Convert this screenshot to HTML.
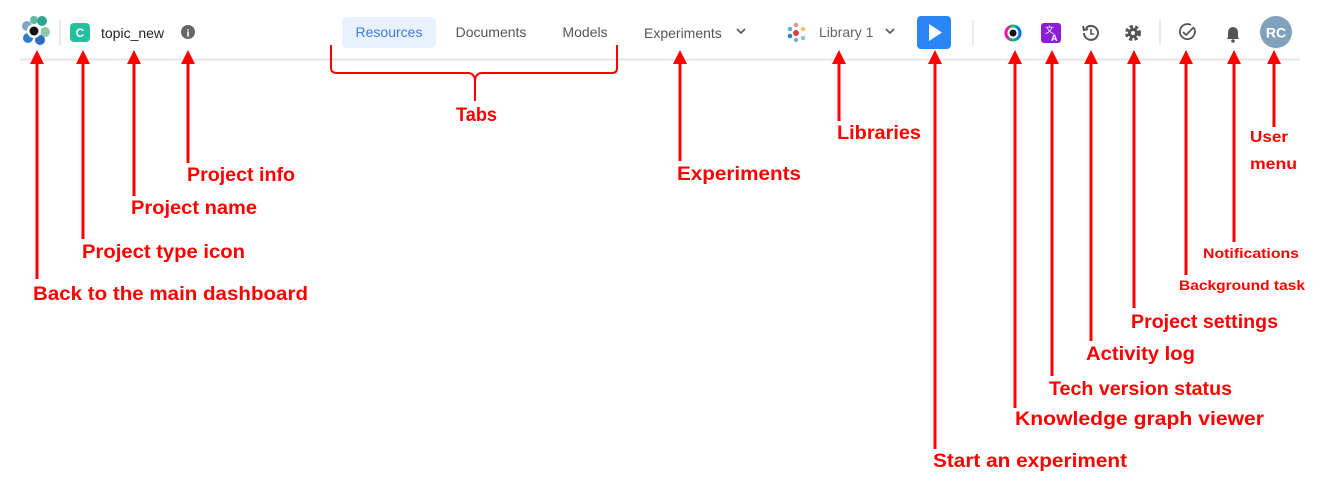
<!DOCTYPE html>
<html><head><meta charset="utf-8"><style>
body{margin:0;width:1339px;height:488px;background:#fff;overflow:hidden}
svg{display:block}
.l{font-family:"Liberation Sans",sans-serif;font-weight:bold;fill:#f00;font-size:19px}
.s{font-size:14px}
.u{font-family:"Liberation Sans",sans-serif;font-size:14px}
</style></head><body>
<svg width="1339" height="488" viewBox="0 0 1339 488" xmlns="http://www.w3.org/2000/svg">
<defs><linearGradient id="g"><stop offset="0" stop-color="#f0a"/><stop offset="0.5" stop-color="#0c6"/><stop offset="1" stop-color="#06f"/></linearGradient>
<path id="h" d="M0,0 L7,14 L-7,14 Z" fill="#f00"/></defs>
<line x1="20" y1="59.5" x2="1300" y2="59.5" stroke="#e6e6e6" stroke-width="2"/>
<g>
<circle cx="27" cy="26" r="5" fill="#7fa6c9"/><circle cx="42" cy="21" r="5" fill="#2aa58f"/><circle cx="45" cy="32" r="5" fill="#8cc7a8"/>
<circle cx="28" cy="38" r="5" fill="#2a7fc9"/><circle cx="40" cy="40" r="5" fill="#2b6cc0"/><circle cx="34" cy="20" r="4" fill="#5fb7a0"/>
<circle cx="34" cy="31" r="7" fill="#fff"/><circle cx="34" cy="31" r="4.5" fill="#111"/>
</g>
<line x1="60" y1="20" x2="60" y2="45" stroke="#e2e2e2" stroke-width="1.5"/>
<rect x="70" y="23" width="20" height="19" rx="4" fill="#22bfa0"/>
<text x="80" y="37" text-anchor="middle" font-family="Liberation Sans" font-weight="bold" font-size="12" fill="#fff">C</text>
<text x="101" y="38" class="u" fill="#222" font-size="14.5">topic_new</text>
<circle cx="188" cy="32" r="7" fill="#666"/><text x="188" y="36.5" text-anchor="middle" font-family="Liberation Serif" font-weight="bold" font-size="11" fill="#fff">i</text>
<rect x="342" y="17" width="94" height="31" rx="5" fill="#e8f1fd"/>
<text x="389" y="37" text-anchor="middle" class="u" fill="#3c7ee0">Resources</text>
<text x="491" y="37" text-anchor="middle" class="u" fill="#555">Documents</text>
<text x="585" y="37" text-anchor="middle" class="u" fill="#555">Models</text>
<text x="644" y="38" class="u" fill="#555">Experiments</text>
<path d="M737,29 l4,4 l4,-4" fill="none" stroke="#555" stroke-width="1.6"/>
<g><circle cx="796" cy="25" r="2.3" fill="#e48f8f"/><circle cx="803" cy="29" r="2.3" fill="#f0c070"/><circle cx="796" cy="33" r="3" fill="#e04040"/><circle cx="790" cy="29" r="2.3" fill="#5fb7d0"/><circle cx="790" cy="36" r="2.3" fill="#2a7fc9"/><circle cx="803" cy="38" r="2.3" fill="#8cc7d8"/><circle cx="796" cy="40" r="2" fill="#7ab"/></g>
<text x="819" y="37" class="u" fill="#666">Library 1</text>
<path d="M886,29 l4,4 l4,-4" fill="none" stroke="#555" stroke-width="1.6"/>
<rect x="917" y="16" width="34" height="33" rx="4" fill="#2b86f5"/>
<path d="M929,24 L942,32.5 L929,41 Z" fill="#fff"/>
<line x1="973" y1="20" x2="973" y2="45" stroke="#e2e2e2" stroke-width="1.5"/>
<circle cx="1013" cy="33" r="7" fill="none" stroke="url(#g)" stroke-width="3"/>
<circle cx="1013" cy="33" r="3.5" fill="#111"/>
<rect x="1041" y="23" width="20" height="20" rx="3" fill="#8b1fd6"/>
<text x="1045" y="33" font-family="Liberation Sans" font-size="9" fill="#fff">文</text><text x="1051" y="41" font-family="Liberation Sans" font-weight="bold" font-size="9" fill="#fff">A</text>
<path d="M1084,33 a7,7 0 1 0 2,-5" fill="none" stroke="#555" stroke-width="2"/><path d="M1083,26 l1,4 l4,-1" fill="none" stroke="#555" stroke-width="2"/><path d="M1091,29 v5 h3" fill="none" stroke="#555" stroke-width="1.6"/>
<circle cx="1133" cy="33" r="6" fill="none" stroke="#555" stroke-width="4" stroke-dasharray="3 2"/><circle cx="1133" cy="33" r="5" fill="#555"/><circle cx="1133" cy="33" r="2" fill="#fff"/>
<line x1="1160" y1="20" x2="1160" y2="45" stroke="#e2e2e2" stroke-width="1.5"/>
<path d="M1194,28 a7.5,7.5 0 1 1 -3,-3" fill="none" stroke="#555" stroke-width="1.8"/><path d="M1183,32 l3,3 l8,-8" fill="none" stroke="#555" stroke-width="1.8"/>
<path d="M1227,39 l1,-2 v-5 a5,5 0 0 1 10,0 v5 l1,2 z" fill="#555"/><circle cx="1233" cy="41" r="1.8" fill="#555"/>
<circle cx="1276" cy="32" r="16" fill="#7fa3be"/>
<text x="1276" y="37.5" text-anchor="middle" font-family="Liberation Sans" font-weight="bold" font-size="14" fill="#fff">RC</text>
<g stroke="#f00" stroke-width="3" fill="none">
<line x1="37" y1="62" x2="37" y2="279"/>
<line x1="83" y1="62" x2="83" y2="239"/>
<line x1="134" y1="62" x2="134" y2="196"/>
<line x1="188" y1="62" x2="188" y2="163"/>
<line x1="680" y1="62" x2="680" y2="161"/>
<line x1="839" y1="62" x2="839" y2="121"/>
<line x1="935" y1="62" x2="935" y2="449"/>
<line x1="1015" y1="62" x2="1015" y2="408"/>
<line x1="1052" y1="62" x2="1052" y2="376"/>
<line x1="1091" y1="62" x2="1091" y2="341"/>
<line x1="1134" y1="62" x2="1134" y2="308"/>
<line x1="1186" y1="62" x2="1186" y2="275"/>
<line x1="1234" y1="62" x2="1234" y2="242"/>
<line x1="1274" y1="62" x2="1274" y2="127"/>
</g>
<use href="#h" x="37" y="50"/><use href="#h" x="83" y="50"/><use href="#h" x="134" y="50"/><use href="#h" x="188" y="50"/>
<use href="#h" x="680" y="50"/><use href="#h" x="839" y="50"/><use href="#h" x="935" y="50"/><use href="#h" x="1015" y="50"/>
<use href="#h" x="1052" y="50"/><use href="#h" x="1091" y="50"/><use href="#h" x="1134" y="50"/><use href="#h" x="1186" y="50"/>
<use href="#h" x="1234" y="50"/><use href="#h" x="1274" y="50"/>
<path d="M331,45 V68 Q331,73 337,73 H468 Q474,73 475,80 V101 M475,80 Q476,73 482,73 H612 Q617,73 617,68 V45" stroke="#f00" stroke-width="2" fill="none"/>
<text class="l" x="33" y="300" textLength="275" lengthAdjust="spacingAndGlyphs">Back to the main dashboard</text>
<text class="l" x="82" y="258" textLength="163" lengthAdjust="spacingAndGlyphs">Project type icon</text>
<text class="l" x="131" y="214" textLength="126" lengthAdjust="spacingAndGlyphs">Project name</text>
<text class="l" x="187" y="181" textLength="108" lengthAdjust="spacingAndGlyphs">Project info</text>
<text class="l" x="456" y="121" textLength="41" lengthAdjust="spacingAndGlyphs">Tabs</text>
<text class="l" x="677" y="180" textLength="124" lengthAdjust="spacingAndGlyphs">Experiments</text>
<text class="l" x="837" y="139" textLength="84" lengthAdjust="spacingAndGlyphs">Libraries</text>
<text class="l" x="933" y="467" textLength="194" lengthAdjust="spacingAndGlyphs">Start an experiment</text>
<text class="l" x="1015" y="425" textLength="249" lengthAdjust="spacingAndGlyphs">Knowledge graph viewer</text>
<text class="l" x="1049" y="395" textLength="183" lengthAdjust="spacingAndGlyphs">Tech version status</text>
<text class="l" x="1086" y="360" textLength="109" lengthAdjust="spacingAndGlyphs">Activity log</text>
<text class="l" x="1131" y="328" textLength="147" lengthAdjust="spacingAndGlyphs">Project settings</text>
<text class="l s" x="1179" y="290" textLength="126" lengthAdjust="spacingAndGlyphs">Background task</text>
<text class="l s" x="1203" y="258" textLength="96" lengthAdjust="spacingAndGlyphs">Notifications</text>
<text class="l" style="font-size:16px" x="1250" y="142" textLength="38" lengthAdjust="spacingAndGlyphs">User</text>
<text class="l" style="font-size:16px" x="1250" y="169" textLength="47" lengthAdjust="spacingAndGlyphs">menu</text>
</svg>
</body></html>
